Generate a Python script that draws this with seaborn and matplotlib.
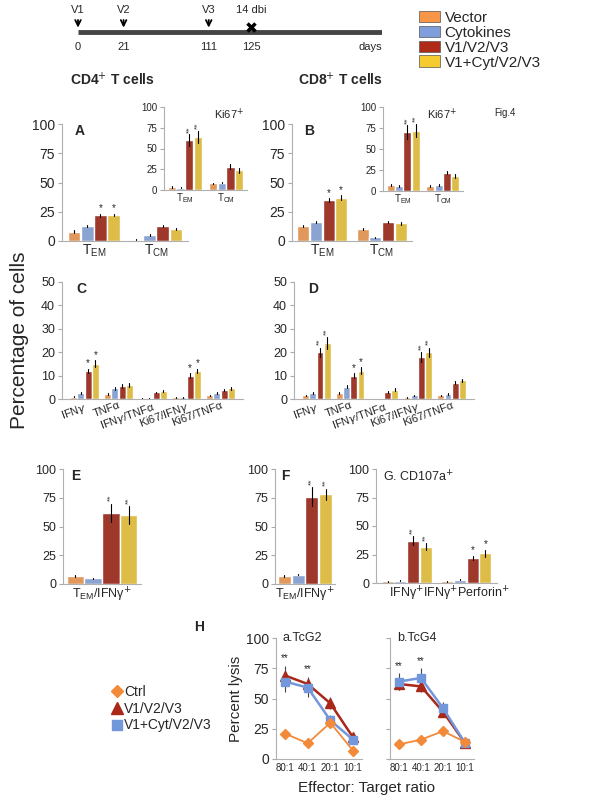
import numpy as np
import pandas as pd
import matplotlib
matplotlib.use("Agg")
import matplotlib.pyplot as plt
import seaborn as sb
from matplotlib.patches import Patch
from matplotlib.lines import Line2D

sb.set_style("white")
plt.rcParams['font.family'] = ['Liberation Sans', 'DejaVu Sans']

groups = ['Vector', 'Cytokines', 'V1/V2/V3', 'V1+Cyt/V2/V3']
colors = ['#F79646', '#7F9FDC', '#B02A18', '#F6CB2F']

# timeline (drawn schematically, not to scale)
tl_days = [0, 21, 111, 125]
tl_labels = ['V1', 'V2', 'V3', '14 dbi']
tl_pos = [0.0, 0.15, 0.43, 0.57]

mem_cats = ['T$_\\mathregular{EM}$', 'T$_\\mathregular{CM}$']
a_vals = [[8, 1], [13, 5], [22, 13], [22, 10]]
a_err = [[1, 0.3], [1, 1], [1.5, 1], [1, 0.8]]
a_star = [['', ''], ['', ''], ['*', ''], ['*', '']]
ai_vals = [[4, 8], [3, 9], [60, 28], [64, 24]]
ai_err = [[1, 1], [1, 1], [7, 3], [7, 3]]
ai_star = [['', ''], ['', ''], ['**', ''], ['**', '']]
b_vals = [[13, 10], [16, 3], [35, 16], [37, 15]]
b_err = [[1, 1], [1, 0.5], [1.5, 1], [2, 1]]
b_star = [['', ''], ['', ''], ['*', ''], ['*', '']]
bi_vals = [[7, 6], [6, 7], [70, 22], [72, 18]]
bi_err = [[1, 1], [1, 1], [8, 2], [8, 2]]
bi_star = [['', ''], ['', ''], ['**', ''], ['**', '']]

cyt_cats = ['IFN$\\gamma$', 'TNF\u03b1', 'IFN$\\gamma$/TNF\u03b1', 'Ki67/IFN$\\gamma$', 'Ki67/TNF\u03b1']
c_vals = [[1, 2, 0.3, 0.7, 1.5], [2.5, 4.5, 0.3, 0.7, 2.5], [12, 5.5, 2.8, 10, 4], [15, 6, 3.3, 12, 4.5]]
c_err = [[0.2, 0.4, 0.1, 0.1, 0.2], [0.3, 0.5, 0.1, 0.1, 0.3], [1, 0.7, 0.3, 1, 0.4], [1.5, 0.7, 0.4, 1, 0.5]]
c_star = [[''] * 5, [''] * 5, ['*', '', '', '*', ''], ['*', '', '', '*', '']]
d_vals = [[1.5, 2.5, 0, 0.8, 1.5], [2.5, 5.3, 0, 1.6, 2.2], [20, 10, 3, 18, 7], [24, 12, 4, 20, 8]]
d_err = [[0.2, 0.4, 0, 0.2, 0.2], [0.3, 0.7, 0, 0.2, 0.3], [2, 1, 0.4, 2, 0.5], [2.5, 1.5, 0.5, 2, 0.7]]
d_star = [[''] * 5, [''] * 5, ['**', '*', '', '**', ''], ['**', '*', '', '**', '']]

e_cats = ['T$_\\mathregular{EM}$/IFN\u03b3$^{+}$']
e_vals = [[7], [5], [62], [60]]
e_err = [[1], [0.5], [8], [8]]
e_star = [[''], [''], ['**'], ['**']]
f_vals = [[7], [8], [76], [78]]
f_err = [[0.5], [0.5], [8], [5]]
f_star = [[''], [''], ['**'], ['**']]
g_cats = ['IFN\u03b3$^{+}$', 'IFN\u03b3$^{+}$Perforin$^{+}$']
g_vals = [[1.5, 1.5], [2, 3], [37, 22], [32, 26]]
g_err = [[0.3, 0.3], [0.3, 0.3], [4, 2], [3, 3]]
g_star = [['', ''], ['', ''], ['**', '*'], ['**', '*']]

ratios = ['80:1', '40:1', '20:1', '10:1']
h_groups = ['Ctrl', 'V1/V2/V3', 'V1+Cyt/V2/V3']
ha_vals = [[21, 13, 30, 7], [69, 62, 46, 18], [64, 59, 32, 16]]
ha_err = [[2, 1, 2, 1], [8, 6, 5, 2], [9, 8, 4, 2]]
hb_vals = [[12, 16, 23, 14], [62, 60, 39, 13], [64, 67, 42, 13]]
hb_err = [[1, 1, 2, 1], [5, 5, 4, 1], [7, 8, 5, 1]]
ha_star = ['**', '**', '', '']
hb_star = ['**', '**', '', '']

W, H = 592, 800
fig = plt.figure(figsize=(W / 100, H / 100), dpi=100)


def ax_px(x0, y0, x1, y1):
    return fig.add_axes([x0 / W, 1 - y1 / H, (x1 - x0) / W, (y1 - y0) / H])


def bars(ax, cats, vals, errs, stars, ymax, yticks, fs=9, xfs=None, rot=0, vstar=False):
    rows = []
    for g, vs in zip(groups, vals):
        for c, v in zip(cats, vs):
            rows.append({'cat': c, 'group': g, 'val': v})
    df = pd.DataFrame(rows)
    sb.barplot(data=df, x='cat', y='val', hue='group', hue_order=groups, order=cats,
               palette=colors, errorbar=None, ax=ax, legend=False, width=0.85, gap=0.05)
    for cont, es, ss in zip(ax.containers, errs, stars):
        for p, e, s in zip(cont, es, ss):
            cx = p.get_x() + p.get_width() / 2
            top = p.get_height()
            ax.plot([cx, cx], [top - e, top + e], color='black', lw=0.8)
            if s:
                if vstar and len(s) == 2:
                    ax.text(cx, top + e + ymax * 0.02, s, ha='center', va='bottom', fontsize=6,
                            rotation=90, color='#333333')
                else:
                    ax.text(cx, top + e + ymax * 0.005, s, ha='center', va='bottom', fontsize=7)
    ax.set_ylim(0, ymax)
    ax.set_yticks(yticks)
    ax.set_xlabel('')
    ax.set_ylabel('')
    ax.tick_params(axis='y', labelsize=fs, length=3, color='#aaaaaa', left=True, pad=2)
    ax.tick_params(axis='x', labelsize=xfs or fs, length=0, pad=1)
    if rot:
        plt.setp(ax.get_xticklabels(), rotation=rot, ha='right', rotation_mode='anchor')
    for sp in ['top', 'right']:
        ax.spines[sp].set_visible(False)
    for sp in ['left', 'bottom']:
        ax.spines[sp].set_color('#b0b0b0')
    ax.set_facecolor('none')


# timeline
tl = ax_px(78, 10, 382, 58)
tl.set_xlim(0, 1)
tl.set_ylim(-1, 1)
tl.axis('off')
tl.plot([0, 1], [0.1, 0.1], color='#444444', lw=3.5, solid_capstyle='butt')
for d, lab, xp in zip(tl_days, tl_labels, tl_pos):
    if lab == '14 dbi':
        tl.plot(xp, 0.3, marker='x', color='black', ms=6, mew=2.5)
    else:
        tl.annotate('', xy=(xp, 0.15), xytext=(xp, 0.7),
                    arrowprops=dict(arrowstyle='->', color='black', lw=1.3))
    tl.text(xp, 0.8, lab, ha='center', va='bottom', fontsize=8)
    tl.text(xp, -0.35, str(d), ha='center', va='top', fontsize=8)
tl.text(1, -0.35, 'days', ha='right', va='top', fontsize=8)

fig.legend(handles=[Patch(facecolor=c, edgecolor='#555555', lw=0.5, label=g) for c, g in zip(colors, groups)],
           loc='upper left', bbox_to_anchor=(408 / W, 1 - 0 / H), frameon=False, fontsize=11,
           handlelength=1.4, handleheight=0.8, labelspacing=0.05, handletextpad=0.3, borderpad=0.2)

fig.text(112 / W, 1 - 80 / H, 'CD4$^{+}$ T cells', ha='center', va='center', fontsize=10, weight='bold')
fig.text(340 / W, 1 - 80 / H, 'CD8$^{+}$ T cells', ha='center', va='center', fontsize=10, weight='bold')
fig.text(505 / W, 1 - 113 / H, 'Fig.4', ha='center', va='center', fontsize=7)

# A
axA = ax_px(62, 124, 188, 241)
bars(axA, mem_cats, a_vals, a_err, a_star, 100, [0, 25, 50, 75, 100], fs=10)
axA.text(0.1, 1.0, 'A', transform=axA.transAxes, fontsize=10, weight='bold', va='top')
axAi = ax_px(164, 107, 247, 190)
bars(axAi, mem_cats, ai_vals, ai_err, ai_star, 100, [0, 25, 50, 75, 100], fs=7, vstar=True)
axAi.text(0.6, 1.0, 'Ki67$^{+}$', transform=axAi.transAxes, fontsize=8, va='top')

# B
axB = ax_px(292, 124, 412, 241)
bars(axB, mem_cats, b_vals, b_err, b_star, 100, [0, 25, 50, 75, 100], fs=10)
axB.text(0.1, 1.0, 'B', transform=axB.transAxes, fontsize=10, weight='bold', va='top')
axBi = ax_px(383, 107, 463, 191)
bars(axBi, mem_cats, bi_vals, bi_err, bi_star, 100, [0, 25, 50, 75, 100], fs=7, vstar=True)
axBi.text(0.55, 1.0, 'Ki67$^{+}$', transform=axBi.transAxes, fontsize=8, va='top')

# C, D
axC = ax_px(62, 282, 243, 399)
bars(axC, cyt_cats, c_vals, c_err, c_star, 50, [0, 10, 20, 30, 40, 50], fs=9, xfs=8, rot=20)
axC.text(0.08, 1.0, 'C', transform=axC.transAxes, fontsize=10, weight='bold', va='top')
axD = ax_px(294, 282, 474, 399)
bars(axD, cyt_cats, d_vals, d_err, d_star, 50, [0, 10, 20, 30, 40, 50], fs=9, xfs=8, rot=20, vstar=True)
axD.text(0.08, 1.0, 'D', transform=axD.transAxes, fontsize=10, weight='bold', va='top')

fig.text(20 / W, 1 - 340 / H, 'Percentage of cells', rotation=90, ha='center', va='center', fontsize=15)

# E, F, G
axE = ax_px(63, 469, 141, 584)
bars(axE, e_cats, e_vals, e_err, e_star, 100, [0, 25, 50, 75, 100], fs=9, vstar=True)
axE.text(0.1, 1.0, 'E', transform=axE.transAxes, fontsize=10, weight='bold', va='top')
axF = ax_px(275, 469, 335, 584)
bars(axF, e_cats, f_vals, f_err, f_star, 100, [0, 25, 50, 75, 100], fs=9, vstar=True)
axF.text(0.1, 1.0, 'F', transform=axF.transAxes, fontsize=10, weight='bold', va='top')
axG = ax_px(376, 469, 497, 583)
bars(axG, g_cats, g_vals, g_err, g_star, 100, [0, 25, 50, 75, 100], fs=9, vstar=True)
axG.text(0.06, 1.0, 'G. CD107a$^{+}$', transform=axG.transAxes, fontsize=9, va='top')

# H
fig.text(199 / W, 1 - 627 / H, 'H', ha='center', va='center', fontsize=10, weight='bold')
h_colors = ['#F28A3A', '#A8281A', '#7397DB']
h_markers = ['D', '^', 's']
h_ms = [5, 7, 6]


def lysis(ax, vals, errs, stars, title, showy):
    rows = []
    for g, vs in zip(h_groups, vals):
        for r, v in zip(ratios, vs):
            rows.append({'ratio': r, 'group': g, 'val': v})
    df = pd.DataFrame(rows)
    df['x'] = df['ratio'].map({r: i for i, r in enumerate(ratios)})
    for g, c, m, ms, es in zip(h_groups, h_colors, h_markers, h_ms, errs):
        sub = df[df['group'] == g]
        ax.errorbar(sub['x'], sub['val'], yerr=es, color=c, ecolor='#444444', elinewidth=0.8,
                    lw=1.3 if g == 'Ctrl' else 1.8, marker=m, ms=ms, zorder=3 if g == 'Ctrl' else 2)
    for i, s in enumerate(stars):
        if s:
            ax.text(i, max(v[i] + e[i] for v, e in zip(vals, errs)) + 2, s, ha='center', va='bottom', fontsize=7)
    ax.set_xlim(-0.4, 3.4)
    ax.set_xticks(range(4))
    ax.set_xticklabels(ratios)
    ax.set_ylim(0, 100)
    ax.set_yticks([0, 25, 50, 75, 100])
    if not showy:
        ax.set_yticklabels([])
    ax.tick_params(axis='y', labelsize=10, length=3, color='#aaaaaa', left=True, pad=2)
    ax.tick_params(axis='x', labelsize=7, length=0, pad=3)
    sb.despine(ax=ax)
    for sp in ['left', 'bottom']:
        ax.spines[sp].set_color('#b0b0b0')
    ax.text(0.08, 1.0, title, transform=ax.transAxes, fontsize=9, va='center')


axHa = ax_px(276, 638, 362, 759)
lysis(axHa, ha_vals, ha_err, ha_star, 'a.TcG2', True)
axHa.set_ylabel('Percent lysis', fontsize=11, labelpad=2)
axHb = ax_px(390, 638, 474, 759)
lysis(axHb, hb_vals, hb_err, hb_star, 'b.TcG4', False)
fig.text(366 / W, 1 - 788 / H, 'Effector: Target ratio', ha='center', va='center', fontsize=11)

fig.legend(handles=[Line2D([], [], color=c, marker=m, ms=ms + 1, lw=0, label=g)
                    for c, m, ms, g in zip(h_colors, h_markers, h_ms, h_groups)],
           loc='upper left', bbox_to_anchor=(106 / W, 1 - 678 / H), frameon=False, fontsize=10,
           handlelength=0.6, handletextpad=0.2, labelspacing=0.2, borderpad=0)

fig.savefig('out.png', dpi=100)
